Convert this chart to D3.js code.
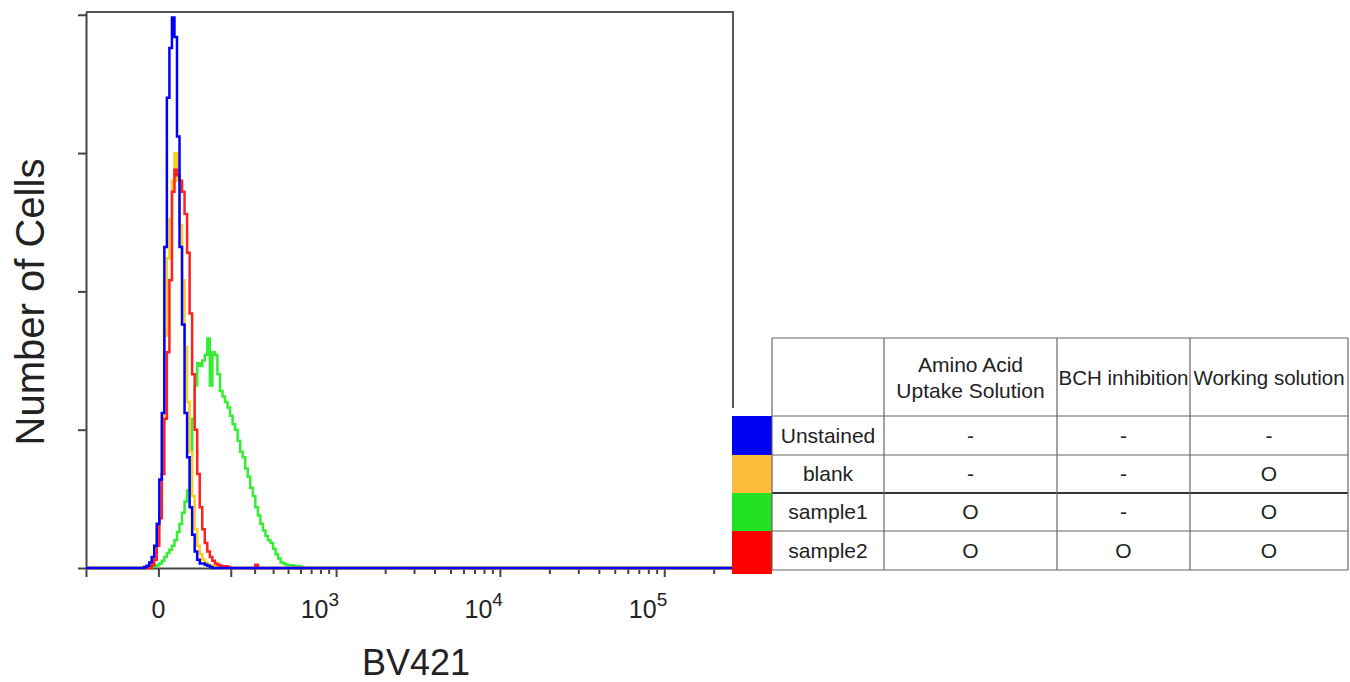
<!DOCTYPE html>
<html>
<head>
<meta charset="utf-8">
<script src="https://cdnjs.cloudflare.com/ajax/libs/d3/7.8.5/d3.min.js"></script>
<style>
body { margin:0; background:#fff; }
text { font-family: "Liberation Sans", Arial, sans-serif; fill:#222; }
</style>
</head>
<body>
<div id="chart"></div>
<script>
//svg attributes
var svgWidth = 1350,
	svgHeight = 682;

var margin = {t:12, l:86};
var width = 647,
	height = 556;

// histogram counts (% of max) per display channel, 256 channels, starting at channel 22
var firstChannel = 22;
var unstained = [0, 0.2, 0.4, 1, 2, 4, 8, 16, 28, 58, 85, 94, 99.5, 96, 78, 58, 44, 28, 20, 11,
	6, 3, 1.5, 0.8, 0.8, 0.6, 0.4, 0.2];
var blank = [0, 0, 0.3, 0.5, 1, 3, 7, 14, 26, 42, 56, 63, 70, 75, 70, 62, 52, 40, 30, 21,
	13, 7, 4, 2.5, 1.5, 1, 0.6, 0.4, 0.3, 0.2, 0.1];
var sample1 = [0, 0, 0, 0, 0.2, 0.3, 0.5, 0.8, 1.3, 2, 2.7, 3.3, 4, 5, 6.5, 8, 10, 12, 14, 20,
	27, 33, 37, 36.5, 37.5, 38.5, 41.5, 33, 39, 38.5, 35, 32, 31, 30, 29, 27.5, 26, 25, 23, 21,
	20, 18, 16.5, 14.5, 13, 11, 9.5, 8, 6.8, 5.8, 5, 4.5, 3.5, 2.5, 1.7, 1, 0.8, 0.6, 0.5, 0.5,
	0.4, 0.3, 0.3, 0.2];
var sample2 = [0, 0, 0, 0, 0.5, 1.5, 4, 9, 17, 27, 39, 52, 68, 72, 71, 70, 68, 64, 57, 46,
	35, 25, 17, 11, 7, 4.5, 3, 2, 1.3, 0.8, 0.6, 0.4, 0.3, 0.3, 0.2, 0, 0, 0, 0, 0,
	0, 0, 0, 0, 0, 0.6];

var seriesNames = ['Unstained', 'blank', 'sample1', 'sample2'];
var seriesCounts = [unstained, blank, sample1, sample2];
var seriesColors = ['#0000ff', '#ffcc1a', '#33ee33', '#ff2020'];
var boxColors = ['#0000f2', '#fbbd3a', '#22e022', '#ff0000'];

// x axis (logicle-like display, data units)
var xMin = -200, xMax = 262144;
var majorTicks = [-200, 0, 200, 1000, 10000, 100000];
var minorTicks = [300, 400, 500, 600, 700, 800, 900,
	2000, 3000, 4000, 5000, 6000, 7000, 8000, 9000,
	20000, 30000, 40000, 50000, 60000, 70000, 80000, 90000, 200000];
var labelValues = [0, 1000, 10000, 100000];
var labelExps = ['', '3', '4', '5'];
var yTicks = [0, 25, 50, 75, 100];

// table content
var headerLines = [['Amino Acid', 'Uptake Solution'], ['BCH inhibition'], ['Working solution']];
var tableCells = [['-', '-', '-'], ['-', '-', 'O'], ['O', '-', 'O'], ['O', 'O', 'O']];

var svg = d3.select('#chart')
	.append('svg')
	.attr('width', svgWidth)
	.attr('height', svgHeight);

var chartGroup = svg.append('g')
	.attr('transform', `translate(${margin.l},${margin.t})`);

// biexponential-ish transform
var cof = 167;
function tf(v) { return Math.asinh(v / cof); }

var xScale = d3.scaleLinear()
	.domain([tf(xMin), tf(xMax)])
	.range([0, width]);
var channelScale = d3.scaleLinear()
	.domain([0, 256])
	.range(xScale.domain());
var yScale = d3.scaleLinear()
	.domain([0, 100.5])
	.range([height, 0]);

// frame top + right
chartGroup.append('path')
	.attr('d', `M0,0H${width}V${height - 160}`)
	.attr('fill', 'none')
	.attr('stroke', '#555')
	.attr('stroke-width', 2);

// axes
var yAxis = chartGroup.append('g')
	.call(d3.axisLeft(yScale).tickValues(yTicks).tickSize(8).tickSizeOuter(0).tickFormat(''));
var xAxis = chartGroup.append('g')
	.attr('transform', `translate(0,${height})`)
	.call(d3.axisBottom(xScale).tickValues(majorTicks.map(tf)).tickSize(9).tickSizeOuter(0).tickFormat(''));
var xMinor = chartGroup.append('g')
	.attr('transform', `translate(0,${height})`)
	.call(d3.axisBottom(xScale).tickValues(minorTicks.map(tf)).tickSize(6).tickSizeOuter(0).tickFormat(''));
xMinor.select('.domain').remove();
chartGroup.selectAll('.domain, .tick line')
	.attr('stroke', '#444')
	.attr('stroke-width', 2);

// histogram lines
var line = d3.line()
	.x(d => xScale(channelScale(d[0])))
	.y(d => yScale(d[1]))
	.curve(d3.curveStepAfter);

function buildPoints(counts) {
	var pts = [];
	for (var c = 0; c < 256; c++) {
		var i = c - firstChannel;
		pts.push([c, (i >= 0 && i < counts.length) ? counts[i] : 0]);
	}
	pts.push([256, 0]);
	return pts;
}

var drawOrder = [2, 1, 3, 0]; // green, orange, red, blue on top
chartGroup.append('g').selectAll('path')
	.data(drawOrder)
	.enter()
	.append('path')
	.attr('d', i => line(buildPoints(seriesCounts[i])))
	.attr('fill', 'none')
	.attr('stroke', i => seriesColors[i])
	.attr('stroke-width', 2.5);

// x tick labels
var xLabels = chartGroup.append('g')
	.attr('transform', `translate(0,${height})`);
labelValues.forEach((v, i) => {
	var t = xLabels.append('text')
		.attr('y', 50)
		.attr('font-size', 25);
	if (labelExps[i] === '') {
		t.attr('x', xScale(tf(v))).attr('text-anchor', 'middle').text('0');
	} else {
		t.attr('x', xScale(tf(v)) + 3).attr('text-anchor', 'end');
		t.append('tspan').text('10');
		t.append('tspan').attr('dy', -12).attr('font-size', 19).text(labelExps[i]);
	}
});

// axis titles
svg.append('text')
	.attr('transform', `translate(44,302)rotate(-90)`)
	.attr('text-anchor', 'middle')
	.attr('font-size', 40)
	.text('Number of Cells');
svg.append('text')
	.attr('x', 416)
	.attr('y', 675)
	.attr('text-anchor', 'middle')
	.attr('font-size', 36)
	.text('BV421');

// table with legend boxes
var colEdges = [772, 884, 1057, 1190, 1348];
var rowEdges = [338, 416, 455, 493, 531, 570];
var table = svg.append('g');

table.selectAll('rect.box')
	.data(boxColors)
	.enter()
	.append('rect')
	.attr('class', 'box')
	.attr('x', 732)
	.attr('y', (d, i) => rowEdges[i + 1])
	.attr('width', 40)
	.attr('height', (d, i) => rowEdges[i + 2] - rowEdges[i + 1] + (i === 3 ? 4 : 0))
	.attr('fill', d => d);

rowEdges.forEach((y, i) => {
	table.append('line')
		.attr('x1', colEdges[0]).attr('x2', colEdges[4])
		.attr('y1', y).attr('y2', y)
		.attr('stroke', i === 3 ? '#333' : '#666')
		.attr('stroke-width', i === 3 ? 2 : 1.2);
});
colEdges.forEach(x => {
	table.append('line')
		.attr('x1', x).attr('x2', x)
		.attr('y1', rowEdges[0]).attr('y2', rowEdges[5])
		.attr('stroke', '#666')
		.attr('stroke-width', 1.2);
});

headerLines.forEach((lines, j) => {
	var cx = (colEdges[j + 1] + colEdges[j + 2]) / 2;
	var cy = (rowEdges[0] + rowEdges[1]) / 2;
	lines.forEach((s, k) => {
		table.append('text')
			.attr('x', cx)
			.attr('y', cy + 8 + (k - (lines.length - 1) / 2) * 26)
			.attr('text-anchor', 'middle')
			.attr('font-size', j === 0 ? 21 : 20.5)
			.text(s);
	});
});

seriesNames.forEach((name, i) => {
	var cy = (rowEdges[i + 1] + rowEdges[i + 2]) / 2 + 7;
	table.append('text')
		.attr('x', (colEdges[0] + colEdges[1]) / 2)
		.attr('y', cy)
		.attr('text-anchor', 'middle')
		.attr('font-size', 21)
		.text(name);
	tableCells[i].forEach((c, j) => {
		table.append('text')
			.attr('x', (colEdges[j + 1] + colEdges[j + 2]) / 2)
			.attr('y', cy)
			.attr('text-anchor', 'middle')
			.attr('font-size', 21)
			.text(c);
	});
});
</script>
</body>
</html>
